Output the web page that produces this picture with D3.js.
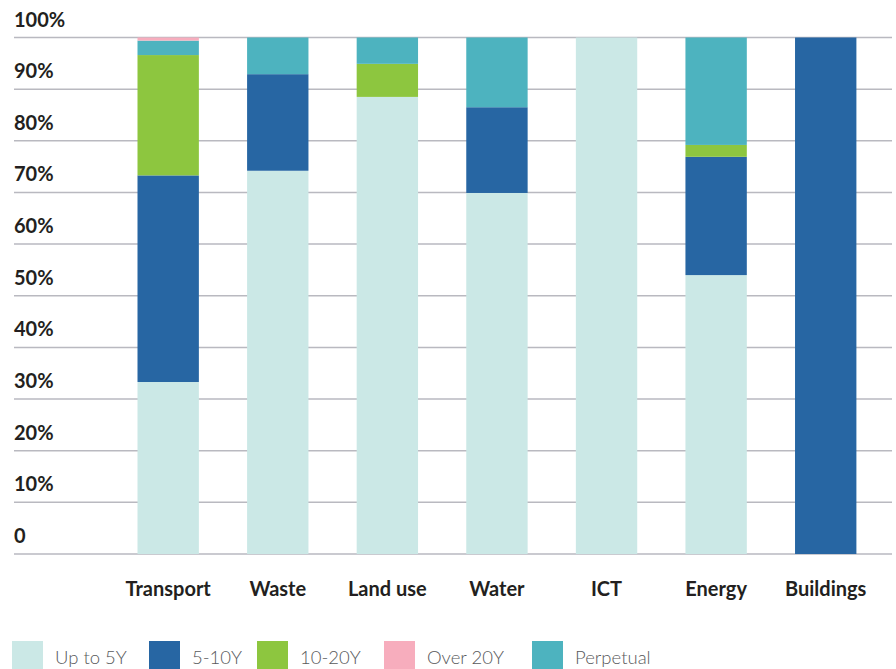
<!DOCTYPE html>
<html>
<head>
<meta charset="utf-8">
<script src="https://cdn.jsdelivr.net/npm/d3@7"></script>
<style>
  body { margin: 0; background: #fff; }
  svg text { font-family: Lato, "Noto Sans", sans-serif; }
  .tick-label { font-size: 20px; font-weight: 700; fill: #231f20; }
  .cat-label { font-size: 20px; font-weight: 700; fill: #231f20; }
  .legend-label { font-size: 18.5px; font-weight: 300; fill: #58595b; }
</style>
</head>
<body>
<svg width="896" height="669"></svg>
<script>
const categories = ["Transport", "Waste", "Land use", "Water", "ICT", "Energy", "Buildings"]
const seriesNames = ["Up to 5Y", "5-10Y", "10-20Y", "Over 20Y", "Perpetual"]
const stackOrder = ["Up to 5Y", "5-10Y", "10-20Y", "Perpetual", "Over 20Y"]
const seriesColors = ["#cbe8e6", "#2766a3", "#8dc63f", "#f7adbd", "#4db3bf"]

const upTo5Y   = [33.3, 74.2, 88.5, 69.9, 100, 54.0, 0]
const y5to10   = [40.0, 18.7, 0, 16.6, 0, 22.9, 100]
const y10to20  = [23.3, 0, 6.4, 0, 0, 2.3, 0]
const over20Y  = [0.6, 0, 0, 0, 0, 0, 0]
const perpetual = [2.8, 7.1, 5.1, 13.5, 0, 20.8, 0]

const yTicks = [0, 10, 20, 30, 40, 50, 60, 70, 80, 90, 100]

const svg = d3.select("svg"),
      margin = {top: 37.5, right: 4, bottom: 115, left: 14},
      width = +svg.attr("width") - margin.left - margin.right,
      height = +svg.attr("height") - margin.top - margin.bottom,
      g = svg.append("g").attr("transform", "translate(" + margin.left + "," + margin.top + ")")

const rows = categories.map((c, i) => ({
  category: c,
  "Up to 5Y": upTo5Y[i],
  "5-10Y": y5to10[i],
  "10-20Y": y10to20[i],
  "Over 20Y": over20Y[i],
  "Perpetual": perpetual[i]
}))

const x = d3.scaleBand().domain(categories).range([123.5, 842.4]).paddingInner(0.44).paddingOuter(0),
      y = d3.scaleLinear().domain([0, 100]).range([height, 0]),
      color = d3.scaleOrdinal().domain(seriesNames).range(seriesColors)

// gridlines
g.selectAll(".grid")
  .data(yTicks)
  .enter().append("line")
    .attr("x1", 0)
    .attr("x2", width)
    .attr("y1", d => y(d))
    .attr("y2", d => y(d))
    .style("stroke", "#b9b9c0")
    .style("stroke-width", 1.5)

g.selectAll(".tick-label")
  .data(yTicks)
  .enter().append("text")
    .attr("class", "tick-label")
    .attr("x", 0)
    .attr("y", d => y(d) - 11)
    .text(d => d === 0 ? "0" : d + "%")

const stacked = d3.stack().keys(stackOrder)(rows)

g.selectAll(".series")
  .data(stacked)
  .enter().append("g")
    .attr("class", "series")
    .style("fill", d => color(d.key))
  .selectAll("rect")
  .data(d => d)
  .enter().append("rect")
    .attr("x", d => x(d.data.category))
    .attr("width", x.bandwidth())
    .attr("y", d => y(d[1]))
    .attr("height", d => y(d[0]) - y(d[1]))

g.selectAll(".cat-label")
  .data(categories)
  .enter().append("text")
    .attr("class", "cat-label")
    .attr("x", d => x(d) + x.bandwidth() / 2)
    .attr("y", height + 42)
    .attr("text-anchor", "middle")
    .text(d => d)

// legend
const legendX = [12, 149, 257, 384, 532]
const legend = svg.selectAll(".legend")
  .data(seriesNames)
  .enter().append("g")
    .attr("class", "legend")
    .attr("transform", (d, i) => "translate(" + legendX[i] + ",641)")

legend.append("rect")
  .attr("width", 31)
  .attr("height", 31)
  .style("fill", d => color(d))

legend.append("text")
  .attr("class", "legend-label")
  .attr("x", 43)
  .attr("y", 23)
  .text(d => d)
</script>
</body>
</html>
